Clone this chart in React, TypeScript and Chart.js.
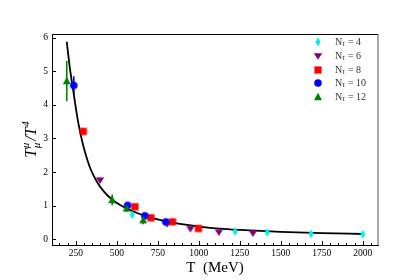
import React, { useEffect, useRef } from "react";
import { Chart, registerables } from "chart.js";
Chart.register(...registerables);

// Fitted curve
const curveT = [195, 205, 215, 229, 240, 250, 266, 286, 307, 337, 378, 418, 469, 520, 560, 620, 682, 750, 803, 884, 1006, 1125, 1250, 1500, 1750, 2000];
const curveY = [5.88, 5.45, 5.06, 4.6, 4.25, 3.92, 3.45, 2.98, 2.58, 2.13, 1.72, 1.44, 1.19, 1.02, 0.92, 0.79, 0.68, 0.59, 0.53, 0.46, 0.38, 0.32, 0.28, 0.22, 0.183, 0.158];

// N_tau = 4
const nt4T = [594, 1221, 1418, 1685, 2000];
const nt4Y = [0.73, 0.23, 0.2, 0.16, 0.15];
const nt4Err = [0.04, 0.03, 0.03, 0.03, 0.03];
// N_tau = 6
const nt6T = [398, 807, 949, 1123, 1330];
const nt6Y = [1.76, 0.46, 0.31, 0.21, 0.18];
const nt6Err = [0.05, 0.03, 0.03, 0.03, 0.03];
// N_tau = 8
const nt8T = [296, 611, 708, 840, 998];
const nt8Y = [3.21, 0.97, 0.64, 0.52, 0.32];
const nt8Err = [0.1, 0.05, 0.04, 0.03, 0.03];
// N_tau = 10
const nt10T = [238, 566, 671, 799];
const nt10Y = [4.58, 1.01, 0.7, 0.52];
const nt10Err = [0.27, 0.06, 0.05, 0.04];
// N_tau = 12
const nt12T = [195, 472, 560, 661];
const nt12Y = [4.71, 1.17, 0.92, 0.57];
const nt12Err = [0.6, 0.16, 0.1, 0.12];

const xTickVals = [250, 500, 750, 1000, 1250, 1500, 1750, 2000];
const yTickVals = [0, 1, 2, 3, 4, 5, 6];
const legendLabels = ["4", "6", "8", "10", "12"];

const FONT = '"Liberation Serif", "DejaVu Serif", serif';

function makeMarker(kind: string, color: string): HTMLCanvasElement {
  const c = document.createElement("canvas");
  const w = 12, h = 12;
  c.width = w; c.height = h;
  const g = c.getContext("2d")!;
  g.fillStyle = color;
  g.beginPath();
  const cx = w / 2, cy = h / 2;
  if (kind === "diamond") {
    g.moveTo(cx, cy - 4.6); g.lineTo(cx + 2.6, cy); g.lineTo(cx, cy + 4.6); g.lineTo(cx - 2.6, cy); g.closePath();
  } else if (kind === "down") {
    g.moveTo(cx - 4.2, cy - 2.8); g.lineTo(cx + 4.2, cy - 2.8); g.lineTo(cx, cy + 3.8); g.closePath();
  } else if (kind === "up") {
    g.moveTo(cx - 4, cy + 3.2); g.lineTo(cx + 4, cy + 3.2); g.lineTo(cx, cy - 4.2); g.closePath();
  } else if (kind === "square") {
    g.rect(cx - 3.6, cy - 3.6, 7.2, 7.2);
  } else {
    g.arc(cx, cy, 3.8, 0, Math.PI * 2);
  }
  g.fill();
  return c;
}

export default function App() {
  const ref = useRef<HTMLCanvasElement>(null);
  useEffect(() => {
    document.body.style.margin = "0";
    const series = [
      { T: nt4T, Y: nt4Y, E: nt4Err, color: "#00f0f0", kind: "diamond" },
      { T: nt6T, Y: nt6Y, E: nt6Err, color: "#800080", kind: "down" },
      { T: nt8T, Y: nt8Y, E: nt8Err, color: "#ff0000", kind: "square" },
      { T: nt10T, Y: nt10Y, E: nt10Err, color: "#0000ff", kind: "circle" },
      { T: nt12T, Y: nt12Y, E: nt12Err, color: "#008000", kind: "up" },
    ];
    const imgs = series.map((s) => makeMarker(s.kind, s.color));

    const datasets: any[] = [
      {
        label: "fit",
        data: curveT.map((t, i) => ({ x: t, y: curveY[i] })),
        borderColor: "#000",
        borderWidth: 1.8,
        pointRadius: 0,
        showLine: true,
        cubicInterpolationMode: "monotone",
        fill: false,
        order: 10,
      },
    ];
    series.forEach((s, k) => {
      datasets.push({
        label: "N" + legendLabels[k],
        data: s.T.map((t, i) => ({ x: t, y: s.Y[i] })),
        pointStyle: imgs[k],
        pointRadius: 5,
        showLine: false,
        order: 5 - k,
      });
    });

    const deco = {
      id: "deco",
      beforeDatasetsDraw(chart: any) {
        const ctx = chart.ctx;
        const xs = chart.scales.x, ys = chart.scales.y;
        ctx.save();
        ctx.lineWidth = 1.6;
        series.forEach((s) => {
          ctx.strokeStyle = s.color;
          s.T.forEach((t, i) => {
            const px = xs.getPixelForValue(t);
            ctx.beginPath();
            ctx.moveTo(px, ys.getPixelForValue(s.Y[i] - s.E[i]));
            ctx.lineTo(px, ys.getPixelForValue(s.Y[i] + s.E[i]));
            ctx.stroke();
          });
        });
        ctx.restore();
      },
      afterDraw(chart: any) {
        const ctx = chart.ctx;
        const a = chart.chartArea;
        const xs = chart.scales.x, ys = chart.scales.y;
        ctx.save();
        // frame top/right
        ctx.strokeStyle = "#000";
        ctx.lineWidth = 1;
        ctx.beginPath();
        ctx.moveTo(a.left, a.top + 0.5); ctx.lineTo(a.right, a.top + 0.5);
        ctx.stroke();
        ctx.strokeStyle = "#555";
        ctx.beginPath();
        ctx.moveTo(a.right, a.top); ctx.lineTo(a.right, a.bottom);
        ctx.stroke();
        // ticks inward
        ctx.strokeStyle = "#000";
        ctx.lineWidth = 1;
        for (let v = 150; v <= 2050; v += 50) {
          const px = Math.round(xs.getPixelForValue(v)) + 0.5;
          const major = v % 250 === 0;
          ctx.beginPath();
          ctx.moveTo(px, a.bottom);
          ctx.lineTo(px, a.bottom - (major ? 4 : 2));
          ctx.stroke();
        }
        yTickVals.forEach((v) => {
          const py = Math.round(ys.getPixelForValue(v)) + 0.5;
          ctx.beginPath();
          ctx.moveTo(a.left, py);
          ctx.lineTo(a.left + 4, py);
          ctx.stroke();
        });
        // x title
        ctx.fillStyle = "#000";
        ctx.font = "15px " + FONT;
        ctx.textAlign = "center";
        ctx.textBaseline = "middle";
        ctx.fillText("T  (MeV)", (a.left + a.right) / 2, 268);
        // y title
        ctx.translate(31, (a.top + a.bottom) / 2);
        ctx.rotate(-Math.PI / 2);
        ctx.textAlign = "left";
        ctx.textBaseline = "alphabetic";
        const big = "italic 16px " + FONT;
        const small = "italic 11px " + FONT;
        ctx.font = big;
        const wT = ctx.measureText("T").width;
        ctx.font = small;
        const wMu = ctx.measureText("μ").width;
        ctx.font = big;
        const wSlash = ctx.measureText("/T").width;
        ctx.font = small;
        const w4 = ctx.measureText("4").width;
        const total = wT + wMu + 2 + wSlash + w4 + 1;
        let x = -total / 2;
        const base = 5;
        ctx.font = big;
        ctx.fillText("T", x, base);
        x += wT + 0.5;
        ctx.font = small;
        ctx.fillText("μ", x, base - 7.5);
        ctx.fillText("μ", x, base + 4);
        x += wMu + 2;
        ctx.font = big;
        ctx.fillText("/T", x, base);
        x += wSlash + 0.5;
        ctx.font = small;
        ctx.fillText("4", x, base - 7.5);
        ctx.restore();

        // legend
        ctx.save();
        const rows = [42, 56, 70, 83, 97];
        series.forEach((s, k) => {
          ctx.drawImage(imgs[k], 318 - 6, rows[k] - 6);
          ctx.fillStyle = "#333";
          ctx.textBaseline = "middle";
          ctx.textAlign = "left";
          ctx.font = "10px " + FONT;
          ctx.fillText("N", 335, rows[k]);
          const wn = ctx.measureText("N").width;
          ctx.font = "italic 7.5px " + FONT;
          ctx.fillText("τ", 335 + wn, rows[k] + 2.5);
          const wt = ctx.measureText("τ").width;
          ctx.font = "10px " + FONT;
          ctx.fillText(" = " + legendLabels[k], 335 + wn + wt + 0.5, rows[k]);
        });
        ctx.restore();
      },
    };

    const chart = new Chart(ref.current!, {
      type: "scatter",
      data: { datasets },
      options: {
        animation: false,
        responsive: false,
        maintainAspectRatio: false,
        layout: { padding: { top: 34, right: 42, left: 0, bottom: 0 } },
        plugins: { legend: { display: false }, tooltip: { enabled: false } },
        scales: {
          x: {
            type: "linear",
            min: 105,
            max: 2093,
            grid: { display: false, drawTicks: false },
            border: { display: true, color: "#000", width: 1 },
            ticks: {
              color: "#000",
              font: { family: FONT, size: 9.5 },
              padding: 3,
              maxRotation: 0,
              autoSkip: false,
              callback: (v: any) => String(v),
            },
            afterBuildTicks: (s: any) => {
              s.ticks = xTickVals.map((v) => ({ value: v }));
            },
            afterFit: (s: any) => {
              s.height = 35;
            },
          },
          y: {
            type: "linear",
            min: -0.17,
            max: 6.11,
            grid: { display: false, drawTicks: false },
            border: { display: true, color: "#000", width: 1 },
            ticks: {
              color: "#000",
              font: { family: FONT, size: 9.5 },
              padding: 4,
              autoSkip: false,
              callback: (v: any) => String(v),
            },
            afterBuildTicks: (s: any) => {
              s.ticks = yTickVals.map((v) => ({ value: v }));
            },
            afterFit: (s: any) => {
              s.width = 52;
            },
          },
        },
      },
      plugins: [deco],
    } as any);
    return () => chart.destroy();
  }, []);
  return <canvas ref={ref} width={420} height={280} style={{ display: "block" }} />;
}
